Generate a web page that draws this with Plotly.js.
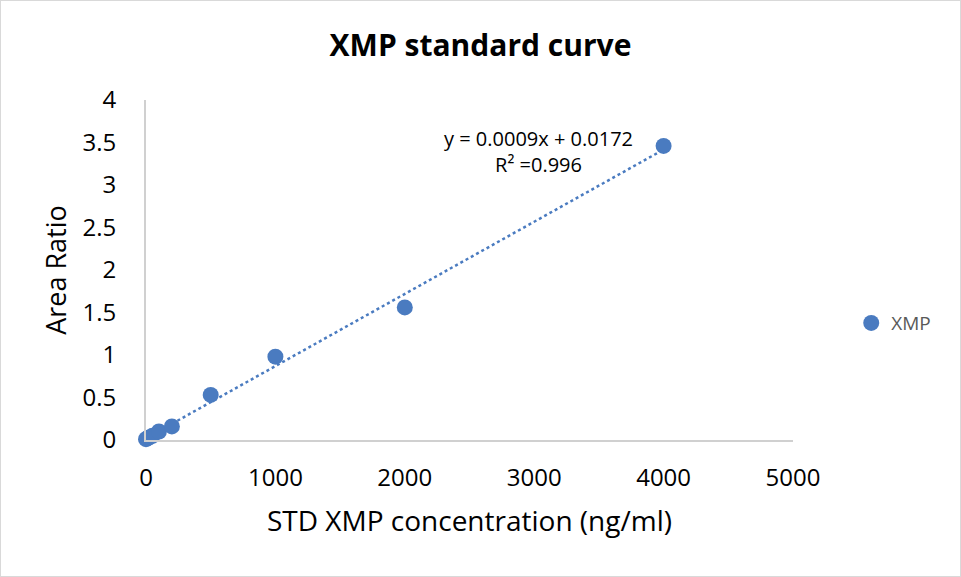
<!DOCTYPE html>
<html><head><meta charset="utf-8">
<script src="https://cdn.plot.ly/plotly-3.0.1.min.js"></script>
<style>
body{margin:0;padding:0;background:#fff;}
#wrap{position:relative;width:961px;height:577px;}
#chart{width:961px;height:577px;}
#frame{position:absolute;left:0;top:0;width:959px;height:575px;border:1px solid #d9d9d9;pointer-events:none;}
</style>
</head><body>
<div id="wrap"><div id="chart"></div><div id="frame"></div></div>
<script>
const concentration = [0, 10, 25, 50, 100, 200, 500, 1000, 2000, 4000];
const areaRatio = [0.01, 0.02, 0.03, 0.05, 0.10, 0.16, 0.53, 0.98, 1.56, 3.46];
const seriesName = "XMP";
const equationText = "y = 0.0009x + 0.0172<br>R² =0.996";
const xTicks = [0, 1000, 2000, 3000, 4000, 5000];
const yTicks = [0, 0.5, 1, 1.5, 2, 2.5, 3, 3.5, 4];
const yTickText = ["0", "0.5", "1", "1.5", "2", "2.5", "3", "3.5", "4"];

// least squares trendline from the data
const n = concentration.length;
const mx = concentration.reduce((a,b)=>a+b,0)/n;
const my = areaRatio.reduce((a,b)=>a+b,0)/n;
let sxy=0, sxx=0;
for (let i=0;i<n;i++){ sxy += (concentration[i]-mx)*(areaRatio[i]-my); sxx += (concentration[i]-mx)**2; }
const slope = sxy/sxx, intercept = my - slope*mx;
const xMin = Math.min(...concentration), xMax = Math.max(...concentration);
const trendX = [xMin, xMax];
const trendY = trendX.map(x => slope*x + intercept);

const FONT = "Open Sans, Liberation Sans, sans-serif";
const BLUE = "#4A7BC0";

const data = [
  {x: trendX, y: trendY, mode: "lines", line: {color: BLUE, width: 2.5, dash: "dot"}, showlegend: false, hoverinfo: "skip", cliponaxis: false},
  {x: concentration, y: areaRatio, mode: "markers", name: seriesName, marker: {color: BLUE, size: 16}, cliponaxis: false}
];

const layout = {
  width: 961, height: 577,
  margin: {l: 146, r: 168, t: 100, b: 137},
  paper_bgcolor: "#fff", plot_bgcolor: "#fff",
  font: {family: FONT, color: "#000"},
  title: {text: "<b>XMP standard curve</b>", font: {size: 30, family: FONT, color: "#000"}, x: 0.5, xanchor: "center", y: 0.922, yanchor: "middle"},
  xaxis: {
    range: [0, 5000], tickvals: xTicks, showgrid: false, zeroline: false,
    showline: true, linecolor: "#d0d0d0", linewidth: 2,
    ticks: "outside", ticklen: 15, tickcolor: "rgba(0,0,0,0)",
    tickfont: {size: 24, family: FONT, color: "#000"},
    title: {text: "STD XMP concentration (ng/ml)", font: {size: 28, family: FONT, color: "#000"}, standoff: 20}
  },
  yaxis: {
    range: [0, 4], tickvals: yTicks, ticktext: yTickText, showgrid: false, zeroline: false,
    showline: true, linecolor: "#d0d0d0", linewidth: 2,
    ticks: "outside", ticklen: 23, tickcolor: "rgba(0,0,0,0)",
    tickfont: {size: 24, family: FONT, color: "#000"},
    title: {text: "Area Ratio", font: {size: 27, family: FONT, color: "#000"}, standoff: 8}
  },
  showlegend: true,
  legend: {x: 1.09, y: 0.344, xanchor: "left", yanchor: "middle", font: {size: 19, family: FONT, color: "#595959"}, bgcolor: "rgba(0,0,0,0)"},
  annotations: [{
    x: 3030, y: 3.40, xref: "x", yref: "y", text: equationText, showarrow: false,
    font: {size: 20, family: FONT, color: "#000"}, align: "center"
  }]
};

Plotly.newPlot("chart", data, layout, {displayModeBar: false, staticPlot: true});
</script>
</body></html>
